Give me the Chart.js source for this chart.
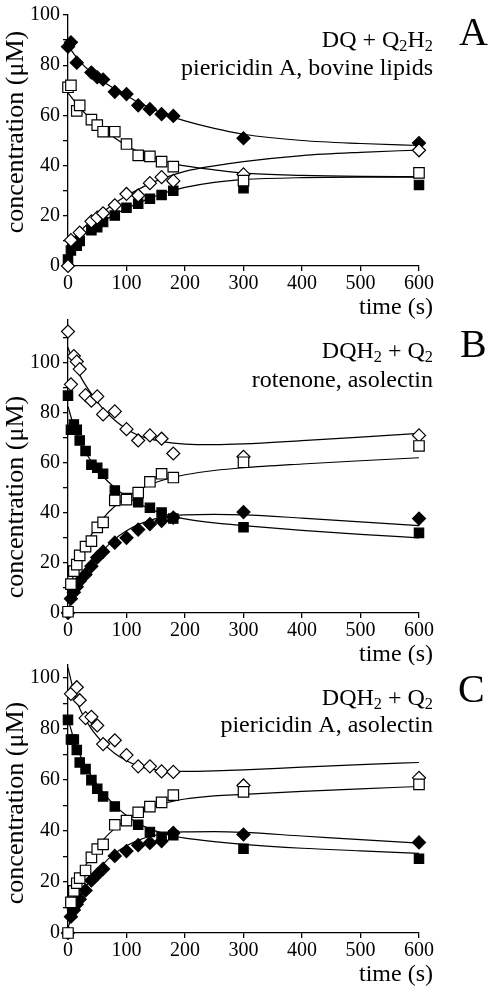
<!DOCTYPE html>
<html>
<head>
<meta charset="utf-8">
<script src="https://cdn.jsdelivr.net/npm/chart.js@4.4.0/dist/chart.umd.min.js"></script>
<style>
  body { margin: 0; background: #fff; }
  #wrap { position: relative; width: 492px; height: 989px; }
  canvas { position: absolute; left: 0; }
</style>
</head>
<body>
<div id="wrap">
  <canvas id="chartA" width="492" height="320" style="top:0px"></canvas>
  <canvas id="chartB" width="492" height="360" style="top:305px"></canvas>
  <canvas id="chartC" width="492" height="339" style="top:650px"></canvas>
</div>
<script>
// time points of the measured data (s)
const timesA = [0, 5, 15, 20, 40, 50, 60, 80, 100, 120, 140, 160, 180, 300, 600];
const timesBC = [0, 5, 10, 15, 20, 30, 40, 50, 60, 80, 100, 120, 140, 160, 180, 300, 600];
// time points
const fitTimes = [0, 10, 20, 40, 60, 80, 100, 120, 140, 160, 180, 200, 250, 300, 400, 500, 600];

// panel A: DQ + Q2H2, piericidin A, bovine lipids
const filledDiamondA = [87.4, 89.1, 81.0, null, 77.1, 75.2, 74.3, 69.4, 68.5, 64.0, 62.5, 60.5, 59.8, 50.9, 49.0];
const openSquareA = [71.2, 72.0, 61.8, 64.0, 58.3, 56.1, 53.5, 53.5, 48.6, 44.1, 43.7, 41.6, 39.6, 34.0, 37.1];
const openDiamondA = [0, 10.3, null, 13.3, 17.8, 19.3, 21.0, 24.2, 28.7, 28.1, 33.0, 35.4, 33.9, 36.5, 46.1];
const filledSquareA = [2.6, 6.2, 8.1, 10.0, 14.2, 15.4, 17.5, 20.1, 23.2, 24.8, 26.8, 28.3, 30.0, 31.0, 32.3];
const fitFilledDiamondA = [88, 84.5, 81.5, 77, 73.5, 70.5, 67.8, 65.2, 63, 61, 59.3, 57.8, 54.8, 52.5, 50, 48.8, 48];
const fitOpenSquareA = [69, 66, 63, 58.5, 54.5, 51, 48, 45.6, 43.8, 42.2, 40.8, 39.9, 38.3, 37, 36.1, 35.7, 35.6];
const fitOpenDiamondA = [8, 11, 13.7, 18, 21.5, 25, 28, 30.5, 32.8, 34.7, 36.3, 37.7, 39.9, 41.6, 44, 45.3, 46.2];
const fitFilledSquareA = [3, 7.5, 10.8, 14.8, 17.8, 20.5, 23, 25, 27, 28.7, 30.1, 31.3, 33.3, 34.4, 35.2, 35.4, 35.4];

// panel B: DQH2 + Q2, rotenone, asolectin
const openDiamondB = [112.4, 91.3, 102.6, 100.4, 97.4, 87.0, 84.8, 86.5, 79.3, 80.5, 73.4, 68.9, 70.9, 69.6, 63.7, 62.4, 70.9];
const filledSquareB = [86.8, 73.2, 75.3, 73.2, 68.9, 64.7, 59.2, 58.0, 55.6, 48.9, 45.9, 44.2, 42.0, 40.1, 37.7, 34.2, 32.0];
const openSquareB = [0.5, 11.5, 16.7, 19.3, 23.0, 26.5, 28.7, 34.2, 36.2, 45.0, 45.3, 48.1, 52.4, 55.6, 54.1, 60.2, 66.7];
const filledDiamondB = [0, 5.7, 8.3, 10.5, 12.8, 15.4, 18.7, 22.2, 24.5, 28.1, 30.0, 33.3, 35.5, 36.8, 38.1, 40.3, 37.7];
const fitOpenDiamondB = [106, 100, 95, 87.5, 81.5, 77, 73.5, 71, 69.5, 68.5, 67.8, 67.4, 67.2, 67.5, 68.8, 70.2, 71.7];
const fitFilledSquareB = [82.5, 74.5, 68.5, 60.5, 54.5, 50, 46.5, 43.8, 41.6, 39.9, 38.6, 37.6, 36, 34.9, 33, 31.4, 30];
const fitOpenSquareB = [7, 15.5, 22, 31.3, 37.8, 42.6, 46.2, 49, 51.2, 52.9, 54.2, 55.2, 56.9, 58, 59.5, 60.8, 62];
const fitFilledDiamondB = [1, 7.5, 12.5, 19.5, 25, 29.5, 32.8, 35.3, 37, 38.2, 38.9, 39.2, 39.4, 39.2, 37.9, 36.4, 34.9];

// panel C: DQH2 + Q2, piericidin A, asolectin
const openDiamondC = [null, 93.7, null, 96.3, 91.2, 84.2, 84.7, 81.3, 74.0, 75.5, 69.7, 65.3, 65.3, 63.3, 63.1, 57.8, 60.8];
const filledSquareC = [83.5, 75.8, 75.8, 71.7, 66.8, 64.2, 59.9, 56.5, 53.5, 49.6, 44.1, 42.4, 39.6, 37.7, 38.3, 33.0, 29.1];
const openSquareC = [0, 12.0, 16.5, 19.5, 21.5, 24.5, 29.6, 32.9, 34.7, 42.4, 44.0, 47.3, 49.5, 51.2, 54.0, 55.3, 58.2];
const filledDiamondC = [0, 6.4, 9.0, 11.3, 13.2, 16.7, 20.6, 22.9, 25.1, 30.2, 32.1, 34.4, 35.3, 36.0, 39.2, 38.6, 35.5];
const fitOpenDiamondC = [104, 94.5, 88, 80, 74.5, 70.3, 67.5, 65.5, 64.3, 63.7, 63.4, 63.3, 63.5, 63.9, 65, 66, 66.8];
const fitFilledSquareC = [84, 76, 70, 61.5, 55, 50, 46, 43, 40.8, 39.2, 38, 37.2, 35.8, 34.7, 33.2, 32.2, 31.2];
const fitOpenSquareC = [5, 14.5, 21.5, 30.5, 36.5, 41, 44.5, 47, 49, 50.5, 51.7, 52.5, 53.7, 54.3, 55.5, 56.5, 57.4];
const fitFilledDiamondC = [2, 9, 14, 21.5, 27, 31.2, 34.2, 36.3, 37.8, 38.8, 39.4, 39.6, 39.7, 39.4, 38, 36.6, 35.2];

const xTicks = [0, 100, 200, 300, 400, 500, 600];
const yLabelEvery = 20;

const serif = '"Liberation Serif", "Times New Roman", serif';

function pts(times, vals) {
  const out = [];
  times.forEach((t, i) => { if (vals[i] !== null) out.push({x: t, y: vals[i]}); });
  return out;
}

function marker(times, vals, shape, filled) {
  return {
    data: pts(times, vals),
    showLine: false,
    pointStyle: shape === 'diamond' ? 'rectRot' : 'rect',
    pointRadius: shape === 'diamond' ? 6.5 : (filled ? 6.6 : 7.4),
    pointBackgroundColor: filled ? '#000' : '#fff',
    pointBorderColor: '#000',
    pointBorderWidth: 1.2,
    clip: false,
    order: 1
  };
}

function fit(vals) {
  return {
    data: pts(fitTimes, vals),
    showLine: true,
    borderColor: '#000',
    borderWidth: 1.2,
    pointRadius: 0,
    cubicInterpolationMode: 'monotone',
    fill: false,
    order: 2
  };
}

// draw text pieces, second entry true = subscript
function drawRuns(ctx, runs, x, y, size, align) {
  let total = 0;
  runs.forEach(r => {
    ctx.font = (r[1] ? size * 0.68 : size) + 'px ' + serif;
    total += ctx.measureText(r[0]).width;
  });
  let cx = align === 'right' ? x - total : (align === 'center' ? x - total / 2 : x);
  ctx.textAlign = 'left';
  runs.forEach(r => {
    ctx.font = (r[1] ? size * 0.68 : size) + 'px ' + serif;
    ctx.fillText(r[0], cx, r[1] ? y + size * 0.18 : y);
    cx += ctx.measureText(r[0]).width;
  });
}

const panelText = {
  id: 'panelText',
  afterDraw(chart, args, opts) {
    const ctx = chart.ctx;
    ctx.save();
    ctx.fillStyle = '#000';
    ctx.textBaseline = 'alphabetic';
    opts.items.forEach(it => {
      if (it.rot) {
        ctx.save();
        ctx.translate(it.x, it.y);
        ctx.rotate(-Math.PI / 2);
        drawRuns(ctx, it.runs, 0, 0, it.size, 'center');
        ctx.restore();
      } else {
        drawRuns(ctx, it.runs, it.x, it.y, it.size, it.align);
      }
    });
    ctx.restore();
  }
};

function makeChart(id, datasets, yMax, padTop, xHeight, items) {
  const tickFont = {family: serif, size: 20};
  new Chart(document.getElementById(id), {
    type: 'scatter',
    data: {datasets: datasets},
    plugins: [panelText],
    options: {
      responsive: false,
      animation: false,
      devicePixelRatio: 1,
      layout: {padding: {top: padTop, right: 73, bottom: 0, left: 0}},
      plugins: {
        legend: {display: false},
        tooltip: {enabled: false},
        panelText: {items: items}
      },
      scales: {
        x: {
          type: 'linear', min: 0, max: 600,
          afterFit: s => { s.height = xHeight; },
          afterBuildTicks: s => { s.ticks = xTicks.map(v => ({value: v})); },
          border: {color: '#000', width: 1.3},
          grid: {drawOnChartArea: false, drawTicks: true, tickLength: 5, color: '#000', lineWidth: 1.3},
          ticks: {color: '#000', font: tickFont, padding: 1, maxRotation: 0, autoSkip: false}
        },
        y: {
          type: 'linear', min: 0, max: yMax,
          afterFit: s => { s.width = 68; },
          border: {color: '#000', width: 1.3},
          grid: {drawOnChartArea: false, drawTicks: true, tickLength: 5, color: '#000', lineWidth: 1.3},
          ticks: {
            stepSize: 10, includeBounds: false, autoSkip: false, color: '#000', font: tickFont, padding: 3,
            callback: v => (v % yLabelEvery === 0 && v <= 100 ? v : '')
          }
        }
      }
    }
  });
}

const yTitle = [['concentration (μM)', false]];

makeChart('chartA', [
  fit(fitFilledDiamondA), fit(fitOpenSquareA), fit(fitOpenDiamondA), fit(fitFilledSquareA),
  marker(timesA, openSquareA, 'square', false),
  marker(timesA, openDiamondA, 'diamond', false),
  marker(timesA, filledSquareA, 'square', true),
  marker(timesA, filledDiamondA, 'diamond', true)
], 100, 7, 54, [
  {runs: [['DQ + Q', false], ['2', true], ['H', false], ['2', true]], x: 433, y: 47, size: 24, align: 'right'},
  {runs: [['piericidin A, bovine lipids', false]], x: 433, y: 75, size: 24, align: 'right'},
  {runs: [['A', false]], x: 459, y: 45, size: 40, align: 'left'},
  {runs: [['time (s)', false]], x: 433, y: 314, size: 24, align: 'right'},
  {runs: yTitle, x: 23, y: 132, size: 26, rot: true}
]);

makeChart('chartB', [
  fit(fitOpenDiamondB), fit(fitFilledSquareB), fit(fitOpenSquareB), fit(fitFilledDiamondB),
  marker(timesBC, openSquareB, 'square', false),
  marker(timesBC, openDiamondB, 'diamond', false),
  marker(timesBC, filledSquareB, 'square', true),
  marker(timesBC, filledDiamondB, 'diamond', true)
], 117, 8, 52, [
  {runs: [['DQH', false], ['2', true], [' + Q', false], ['2', true]], x: 433, y: 53, size: 24, align: 'right'},
  {runs: [['rotenone, asolectin', false]], x: 433, y: 82, size: 24, align: 'right'},
  {runs: [['B', false]], x: 460, y: 52, size: 40, align: 'left'},
  {runs: [['time (s)', false]], x: 433, y: 356, size: 24, align: 'right'},
  {runs: yTitle, x: 23, y: 192, size: 26, rot: true}
]);

makeChart('chartC', [
  fit(fitOpenDiamondC), fit(fitFilledSquareC), fit(fitOpenSquareC), fit(fitFilledDiamondC),
  marker(timesBC, openSquareC, 'square', false),
  marker(timesBC, openDiamondC, 'diamond', false),
  marker(timesBC, filledSquareC, 'square', true),
  marker(timesBC, filledDiamondC, 'diamond', true)
], 105, 10, 56, [
  {runs: [['DQH', false], ['2', true], [' + Q', false], ['2', true]], x: 433, y: 55, size: 24, align: 'right'},
  {runs: [['piericidin A, asolectin', false]], x: 433, y: 82, size: 24, align: 'right'},
  {runs: [['C', false]], x: 458, y: 52, size: 40, align: 'left'},
  {runs: [['time (s)', false]], x: 433, y: 331, size: 24, align: 'right'},
  {runs: yTitle, x: 23, y: 153, size: 26, rot: true}
]);
</script>
</body>
</html>
